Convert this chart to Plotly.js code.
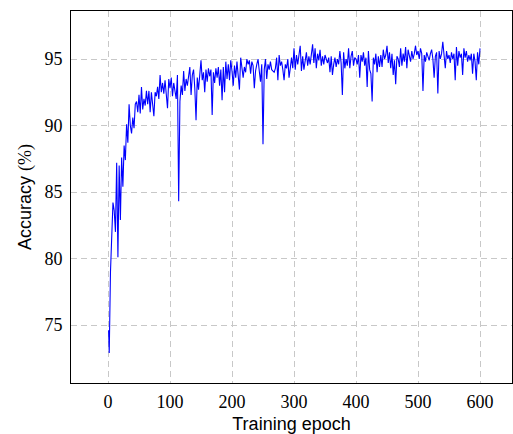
<!DOCTYPE html>
<html>
<head>
<meta charset="utf-8">
<script src="https://cdn.plot.ly/plotly-3.0.1.min.js"></script>
<style>html,body{margin:0;padding:0;background:#fff;}#chart{width:513px;height:434px;}</style>
</head>
<body>
<div id="chart"></div>
<script>
const epochs = [1].concat(Array.from({length: 300}, (_, i) => 2 * (i + 1)));

// Accuracy (%)
const accuracy = [
  74.6,
  72.9, 79.0, 82.7, 84.2, 83.6, 82.0, 87.2, 80.1, 87.0, 82.9,
  87.6, 85.4, 88.5, 87.4, 90.1, 88.7, 91.6, 90.0, 89.4, 90.6,
  89.8, 91.6, 91.8, 91.0, 92.3, 90.9, 92.9, 91.2, 92.0, 91.5,
  92.6, 91.6, 92.6, 91.0, 92.5, 91.5, 90.7, 92.5, 92.2, 92.9,
  92.0, 93.8, 92.5, 93.2, 92.4, 93.4, 92.0, 91.3, 93.5, 92.8,
  93.6, 92.2, 93.2, 92.4, 92.0, 93.8, 84.3, 91.8, 93.0, 92.3,
  94.1, 92.6, 93.5, 93.0, 93.9, 94.4, 92.3, 93.8, 94.2, 92.8,
  90.4, 93.6, 92.7, 94.2, 94.9, 93.4, 94.0, 92.5, 94.2, 93.3,
  94.3, 93.7, 94.2, 90.8, 94.0, 93.2, 94.3, 93.6, 94.4, 93.0,
  94.2, 91.9, 94.4, 92.5, 94.8, 93.5, 94.6, 93.4, 94.9, 94.1,
  93.0, 94.5, 93.6, 94.8, 93.9, 92.7, 95.1, 94.2, 93.6, 94.4,
  94.0, 95.0, 94.6, 94.9, 93.9, 94.8, 94.5, 92.8, 94.1, 94.6,
  95.0, 94.1, 93.3, 94.6, 88.6, 94.2, 95.0, 93.5, 94.6, 94.2,
  94.8, 94.2, 94.1, 94.0, 94.3, 95.1, 93.4, 95.3, 94.5, 94.8,
  94.2, 93.4, 94.6, 94.3, 95.0, 93.6, 94.3, 95.1, 94.3, 95.8,
  94.2, 95.3, 94.6, 95.4, 96.0, 94.1, 95.2, 94.2, 94.8, 95.5,
  94.5, 95.2, 94.6, 95.3, 96.1, 94.7, 95.8, 94.3, 95.4, 94.9,
  95.7, 94.5, 95.2, 94.6, 95.3, 95.0, 94.7, 95.1, 94.0, 95.2,
  93.8, 94.6, 95.1, 94.4, 95.0, 94.6, 95.6, 94.7, 92.3, 95.5,
  94.3, 95.0, 94.5, 95.8, 94.3, 95.2, 95.6, 94.5, 95.1, 95.0,
  94.6, 95.3, 93.6, 95.3, 94.8, 95.5, 94.5, 95.1, 92.9, 95.6,
  94.2, 93.9, 91.8, 95.1, 94.6, 95.4, 94.0, 95.2, 94.4, 95.3,
  94.4, 95.7, 95.0, 95.3, 96.0, 94.7, 95.5, 94.3, 95.4, 93.8,
  94.9, 93.1, 95.2, 95.0, 94.4, 95.8, 94.5, 95.4, 94.8, 95.9,
  94.3, 95.7, 95.1, 94.8, 95.6, 95.0, 95.4, 96.0, 95.3, 95.6,
  95.0, 95.8, 95.4, 92.6, 95.3, 94.8, 95.5, 95.1, 94.9, 95.4,
  95.7, 95.0, 93.6, 95.2, 95.5, 92.4, 95.6, 95.0, 95.4, 96.3,
  95.1, 94.3, 95.6, 95.0, 95.3, 94.7, 95.5, 95.0, 95.4, 93.4,
  95.9, 94.5, 95.6, 95.1, 95.4, 93.8, 95.8, 95.1, 95.6, 94.8,
  95.3, 94.9, 95.4, 93.9, 95.4, 94.8, 93.4, 95.5, 94.6, 95.8
];

const xTicks = [0, 100, 200, 300, 400, 500, 600];
const yTicks = [75, 80, 85, 90, 95];

const serif = 'Liberation Serif';
const sans = 'Liberation Sans';

const trace = {
  x: epochs,
  y: accuracy,
  type: 'scatter',
  mode: 'lines',
  line: {color: '#0000ff', width: 1.1},
  hoverinfo: 'skip'
};

const gridStyle = {
  showgrid: true,
  gridcolor: '#c8c8c8',
  gridwidth: 1,
  griddash: '6px,4px',
  zeroline: false,
  showline: true,
  linecolor: '#000',
  linewidth: 1,
  mirror: true,
  ticks: '',
  tickfont: {family: serif, size: 18, color: '#000'}
};

const layout = {
  width: 513,
  height: 434,
  margin: {l: 71, r: 1, t: 11, b: 51},
  paper_bgcolor: '#fff',
  plot_bgcolor: '#fff',
  showlegend: false,
  xaxis: Object.assign({}, gridStyle, {
    range: [-59.68, 651.6],
    tickmode: 'array',
    tickvals: xTicks,
    ticktext: xTicks.map(String),
    ticklabelstandoff: 2,
    title: {text: 'Training epoch', font: {family: sans, size: 18, color: '#000'}, standoff: 6}
  }),
  yaxis: Object.assign({}, gridStyle, {
    range: [70.639, 98.609],
    tickmode: 'array',
    tickvals: yTicks,
    ticktext: yTicks.map(String),
    ticklabelstandoff: 4,
    title: {text: 'Accuracy <span style="font-family:Liberation Serif">(%)</span>', font: {family: sans, size: 18, color: '#000'}, standoff: 8}
  })
};

Plotly.newPlot('chart', [trace], layout, {staticPlot: true, displayModeBar: false});
</script>
</body>
</html>
